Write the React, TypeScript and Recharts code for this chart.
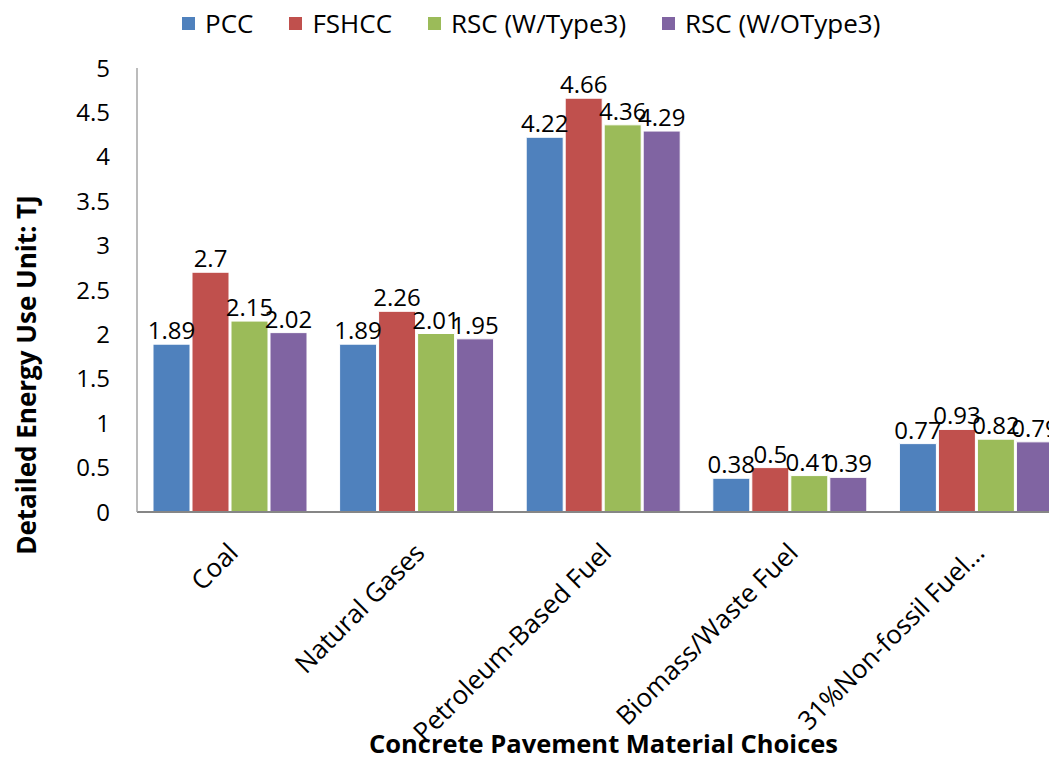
import React from 'react';
import { BarChart, Bar, XAxis, YAxis, Legend, LabelList, Label } from 'recharts';

const categories = ['Coal', 'Natural Gases', 'Petroleum-Based Fuel', 'Biomass/Waste Fuel', '31%Non-fossil Fuel…'];
const pcc = [1.89, 1.89, 4.22, 0.38, 0.77];
const fshcc = [2.7, 2.26, 4.66, 0.5, 0.93];
const rscWType3 = [2.15, 2.01, 4.36, 0.41, 0.82];
const rscWOType3 = [2.02, 1.95, 4.29, 0.39, 0.79];
const yTicks = [0, 0.5, 1, 1.5, 2, 2.5, 3, 3.5, 4, 4.5, 5];

const seriesNames = ['PCC', 'FSHCC', 'RSC (W/Type3)', 'RSC (W/OType3)'];
const seriesKeys = ['pcc', 'fshcc', 'rscW', 'rscWO'];
const colors = ['#4F81BD', '#C0504D', '#9BBB59', '#8064A2'];

const data = categories.map((c, i) => ({
  name: c,
  pcc: pcc[i],
  fshcc: fshcc[i],
  rscW: rscWType3[i],
  rscWO: rscWOType3[i],
}));

const FONT = '"Open Sans", sans-serif';

const XTick = (props: any) => {
  const { x, y, payload } = props;
  return (
    <g transform={`translate(${x + 3},${y + 36})`}>
      <text textAnchor="end" transform="rotate(-45)" fontSize={26} dy="0.35em" fill="#000" fontFamily={FONT}>
        {payload.value}
      </text>
    </g>
  );
};

const LegendContent = () => (
  <div style={{ display: 'flex', alignItems: 'center', height: 46, paddingLeft: 182, fontFamily: FONT, fontSize: 26, color: '#000' }}>
    {seriesNames.map((n, i) => (
      <div key={n} style={{ display: 'flex', alignItems: 'center', marginRight: 36 }}>
        <span style={{ display: 'inline-block', width: 13, height: 13, background: colors[i], marginRight: 10 }} />
        <span style={{ lineHeight: '30px' }}>{n}</span>
      </div>
    ))}
  </div>
);

export default function App() {
  return (
    <div style={{ margin: '-8px 0 0 -8px', width: 1057, height: 758, overflow: 'hidden', background: '#fff', position: 'relative' }}>
      <BarChart
        width={1070}
        height={758}
        data={data}
        margin={{ top: 0, right: 0, left: 0, bottom: 0 }}
        barCategoryGap={16}
        barGap={2}
        style={{ fontFamily: FONT }}
      >
        <Legend verticalAlign="top" height={68} wrapperStyle={{ top: 0, left: 0 }} content={<LegendContent />} />
        <XAxis
          dataKey="name"
          height={246}
          tickLine={false}
          tickSize={0}
          tickMargin={0}
          axisLine={{ stroke: '#868686', strokeWidth: 2 }}
          tick={<XTick />}
          interval={0}
        >
          <Label
            value="Concrete Pavement Material Choices"
            position="insideBottom"
            offset={5}
            style={{ fontSize: 25.5, fontWeight: 'bold', fill: '#000', fontFamily: FONT }}
          />
        </XAxis>
        <YAxis
          width={137}
          domain={[0, 5]}
          ticks={yTicks}
          interval={0}
          tickLine={false}
          tickSize={0}
          tickMargin={27}
          axisLine={{ stroke: '#A6A6A6', strokeWidth: 1.5 }}
          tick={{ fontSize: 24, fill: '#000', fontFamily: FONT }}
          label={{
            content: () => (
              <text
                x={26}
                y={375}
                transform="rotate(-90,26,375)"
                textAnchor="middle"
                dominantBaseline="central"
                fontWeight="bold"
                fontSize={26}
                fill="#000"
                fontFamily={FONT}
              >
                Detailed Energy Use Unit: TJ
              </text>
            ),
          }}
        />
        {seriesKeys.map((k, i) => (
          <Bar key={k} dataKey={k} name={seriesNames[i]} fill={colors[i]} stroke="#fff" strokeWidth={1} isAnimationActive={false}>
            <LabelList dataKey={k} position="top" offset={5} style={{ fontSize: 24, fill: '#000', fontFamily: FONT }} />
          </Bar>
        ))}
      </BarChart>
    </div>
  );
}
